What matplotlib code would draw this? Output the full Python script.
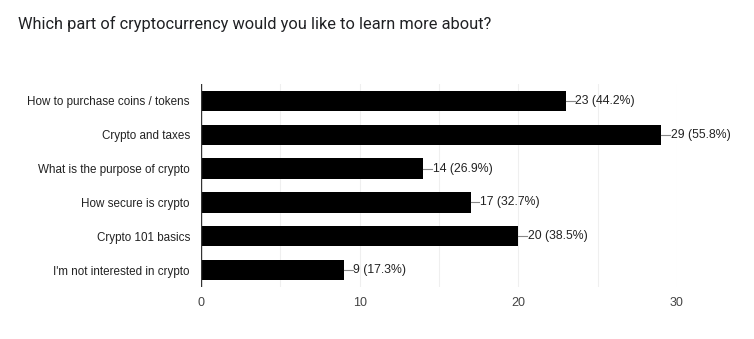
import matplotlib
matplotlib.use("Agg")
import matplotlib.pyplot as plt

categories = [
    "How to purchase coins / tokens",
    "Crypto and taxes",
    "What is the purpose of crypto",
    "How secure is crypto",
    "Crypto 101 basics",
    "I'm not interested in crypto",
]
counts = [23, 29, 14, 17, 20, 9]
percents = [44.2, 55.8, 26.9, 32.7, 38.5, 17.3]
xticks = [0, 10, 20, 30]

plt.rcParams["font.family"] = ["Liberation Sans", "DejaVu Sans"]

fig = plt.figure(figsize=(7.54, 3.39), dpi=100)
ax = fig.add_axes([201 / 754, 1 - 287 / 339, 476 / 754, 203 / 339])

ypos = list(range(len(categories)))
ax.barh(ypos, counts, height=0.6, color="black", zorder=3)
ax.set_ylim(len(categories) - 0.5, -0.5)
ax.set_xlim(0, 30)

# faint grid every 5
for gx in range(5, 31, 5):
    ax.axvline(gx, color="#efefef", lw=0.8, zorder=1)
ax.axvline(0, color="#333333", lw=1.0, zorder=4)

for y, c, p in zip(ypos, counts, percents):
    ax.plot([c, c + 0.55], [y, y], color="#888888", lw=0.8, zorder=4)
    ax.text(c + 0.6, y, f"{c} ({p}%)", va="center", ha="left", fontsize=8.8, color="#222222")

ax.set_yticks(ypos)
ax.set_yticklabels(categories, fontsize=8.4, color="#222222")
ax.set_xticks(xticks)
ax.set_xticklabels([str(t) for t in xticks], fontsize=9, color="#444444")
ax.tick_params(axis="both", length=0)
ax.tick_params(axis="y", pad=8)
ax.tick_params(axis="x", pad=7)
for s in ax.spines.values():
    s.set_visible(False)

fig.text(18 / 754, 1 - 24 / 339, "Which part of cryptocurrency would you like to learn more about?",
         fontsize=11.8, color="#202124", va="center", ha="left", family=["Roboto", "DejaVu Sans"])

fig.savefig("out.png", dpi=100)
